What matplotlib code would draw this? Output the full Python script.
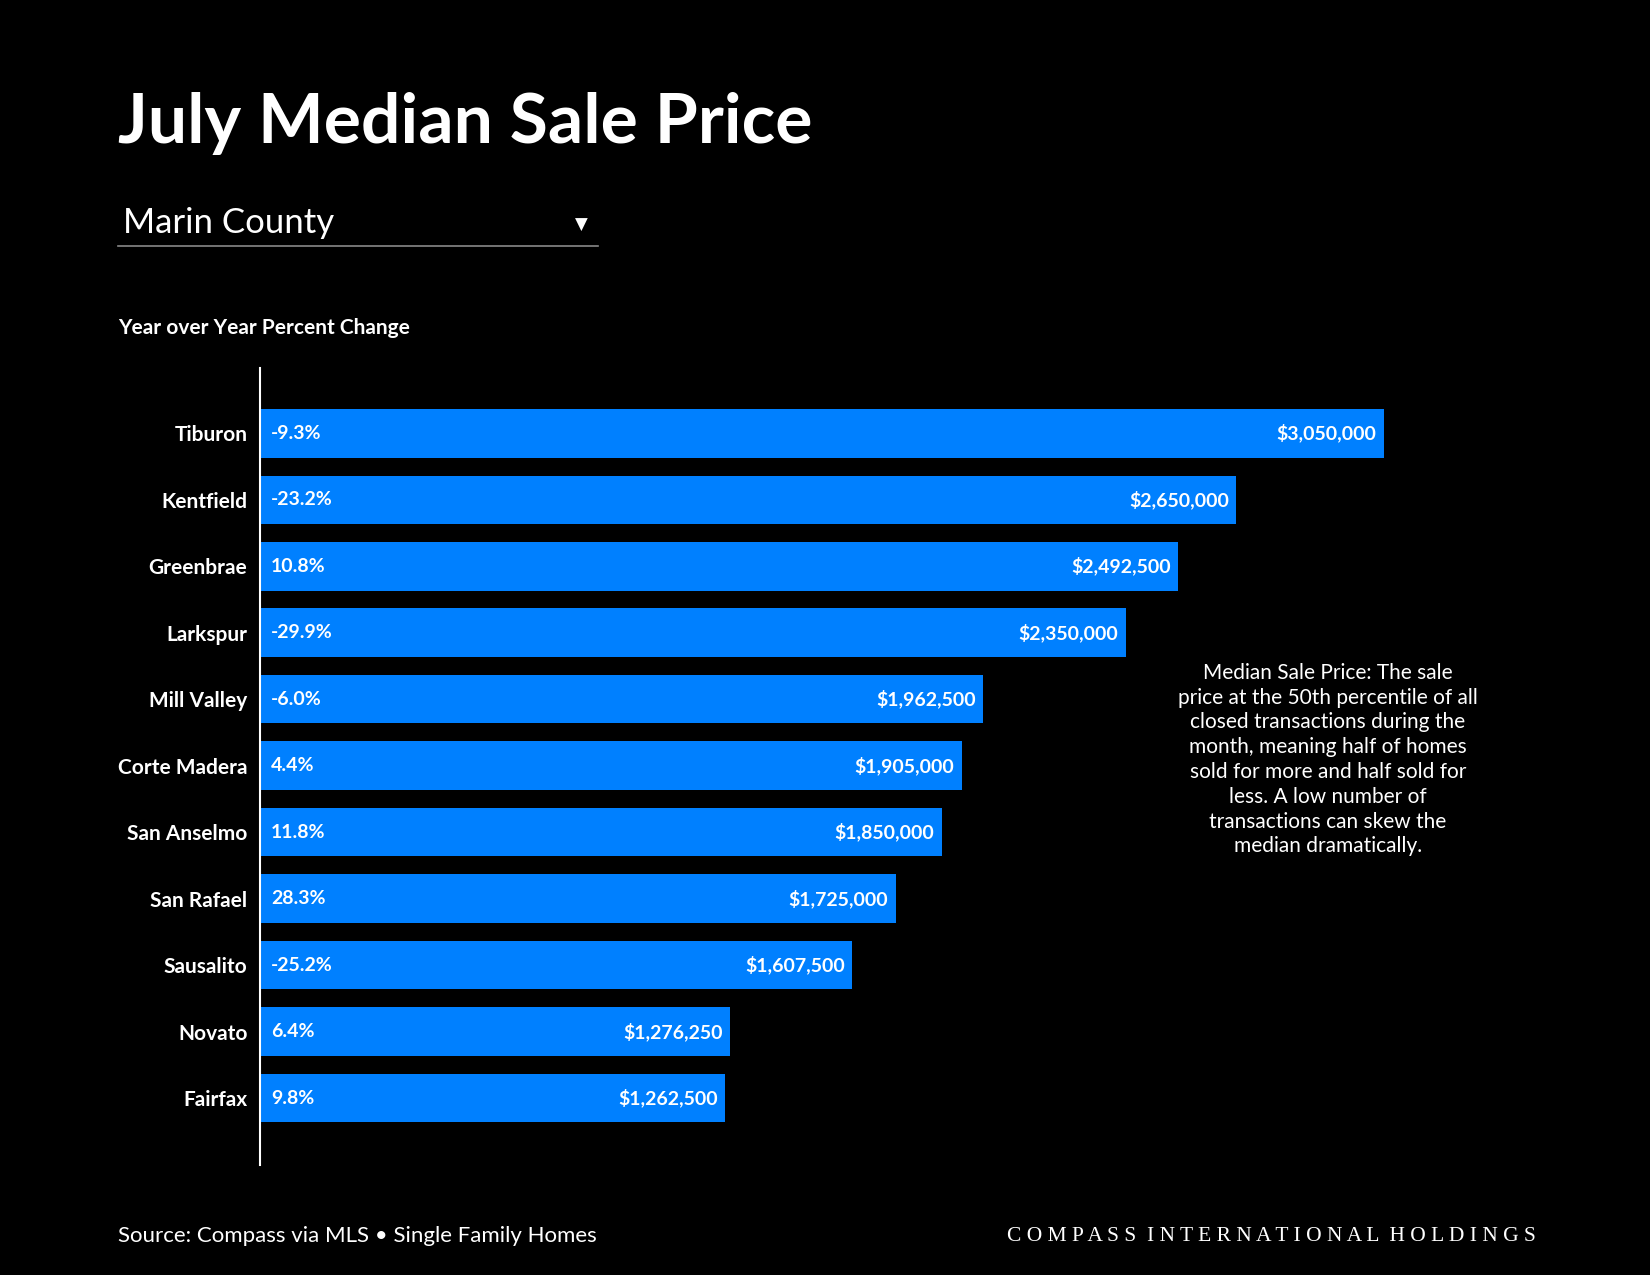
import matplotlib
matplotlib.use("Agg")
import matplotlib.pyplot as plt

cities = ["Tiburon","Kentfield","Greenbrae","Larkspur","Mill Valley","Corte Madera",
          "San Anselmo","San Rafael","Sausalito","Novato","Fairfax"]
prices = [3050000,2650000,2492500,2350000,1962500,1905000,1850000,1725000,1607500,1276250,1262500]
yoy = ["-9.3%","-23.2%","10.8%","-29.9%","-6.0%","4.4%","11.8%","28.3%","-25.2%","6.4%","9.8%"]

plt.rcParams['font.family'] = ['Lato', 'DejaVu Sans']
fig = plt.figure(figsize=(16.5, 12.75), dpi=100, facecolor='black')
W, H = 1568, 1212
def fx(x): return x / W
def fy(y): return 1 - y / H

ax = fig.add_axes([fx(247), fy(1107), fx(1315) - fx(247), fy(350) - fy(1107)])
ax.set_facecolor('black')
pos = list(range(len(cities)))
ax.barh(pos, prices, height=0.73, color='#0080FF')
ax.set_xlim(0, 3050000)
ax.set_ylim(11.0, -0.98)
for s in ['top', 'right', 'bottom']:
    ax.spines[s].set_visible(False)
ax.spines['left'].set_color('white')
ax.spines['left'].set_linewidth(1.5)
ax.set_xticks([])
ax.set_yticks(pos)
ax.set_yticklabels(cities, color='white', fontsize=15, fontweight='bold')
ax.tick_params(axis='y', length=0, pad=9)
for i, (p, c) in enumerate(zip(prices, yoy)):
    ax.text(30000, i, c, color='white', fontsize=14, fontweight='bold', va='center', ha='left')
    ax.text(p - 20000, i, f"${p:,}", color='white', fontsize=14, fontweight='bold', va='center', ha='right')

fig.text(fx(112), fy(117), "July Median Sale Price", color='white', fontsize=50, fontweight='bold', va='center')
fig.text(fx(117), fy(212), "Marin County", color='white', fontsize=25, va='center')
fig.add_artist(plt.Line2D([fx(112), fx(568)], [fy(234), fy(234)], color='#888888', lw=1.2))
fig.text(fx(552), fy(214), "\u25BC", color='white', fontsize=12, ha='center', va='center', family='DejaVu Sans')
fig.text(fx(112), fy(312), "Year over Year Percent Change", color='white', fontsize=15, fontweight='bold', va='center')
fig.text(fx(1262), fy(722),
         "Median Sale Price: The sale\nprice at the 50th percentile of all\nclosed transactions during the\nmonth, meaning half of homes\nsold for more and half sold for\nless. A low number of\ntransactions can skew the\nmedian dramatically.",
         color='white', fontsize=15, ha='center', va='center', linespacing=1.3)
fig.text(fx(112), fy(1175), "Source: Compass via MLS \u2022 Single Family Homes", color='white', fontsize=16, va='center')
fig.text(fx(1460), fy(1175), "C O M P A S S   I N T E R N A T I O N A L   H O L D I N G S".replace("   ", "  "),
         color='white', fontsize=15.5, ha='right', va='center', family='Liberation Serif')

fig.savefig("out.png", dpi=100, facecolor='black')
